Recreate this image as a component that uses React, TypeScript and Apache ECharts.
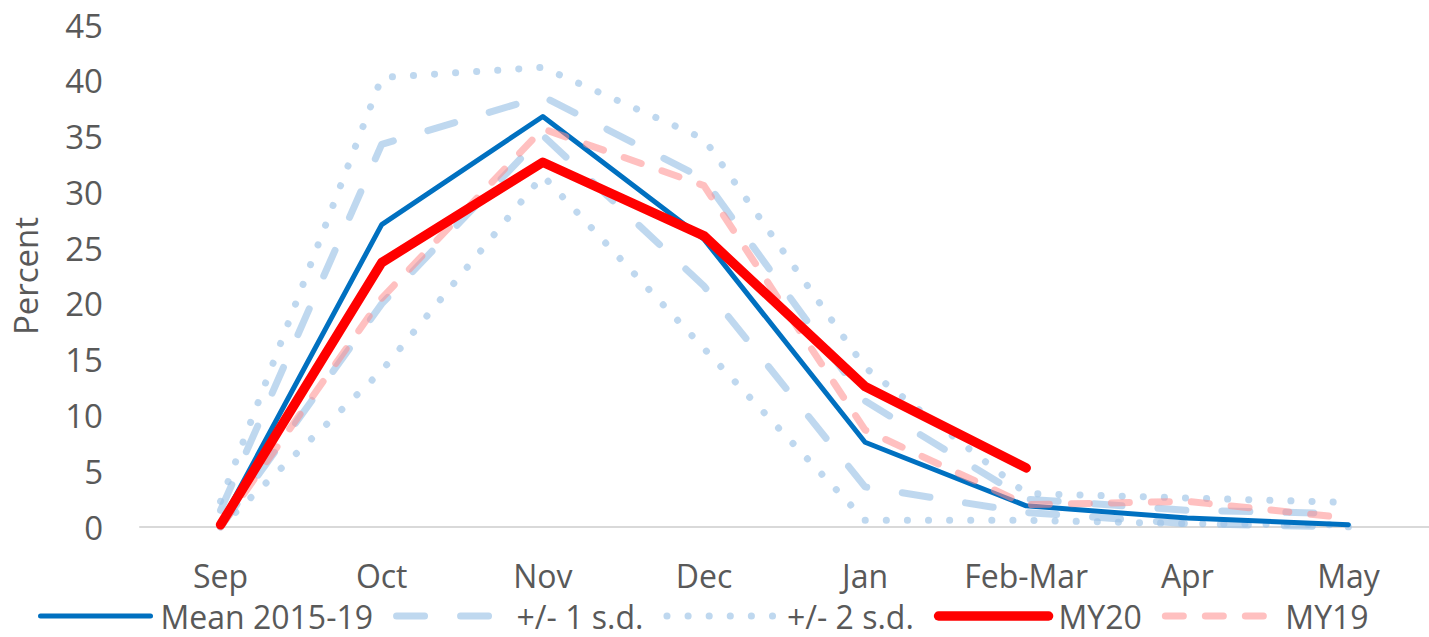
import React, { useEffect, useRef } from "react";
import * as echarts from "echarts";

const categories = ["Sep", "Oct", "Nov", "Dec", "Jan", "Feb-Mar", "Apr", "May"];
const mean1519 = [0.3, 27.1, 36.8, 25.8, 7.6, 1.9, 0.8, 0.2];
const sd1Upper = [1.5, 34.3, 38.6, 31.2, 11.3, 2.5, 1.5, 1.2];
const sd1Lower = [0, 20, 35.1, 21.6, 3.6, 1.3, 0.3, 0];
const sd2Upper = [2.3, 40.3, 41.2, 34.8, 14.3, 3.0, 2.6, 2.2];
const sd2Lower = [0, 14, 31.5, 16, 0.6, 0.6, 0.3, 0.2];
const my20 = [0.2, 23.7, 32.7, 26.1, 12.6, 5.3];
const my19 = [0, 20.5, 35.7, 30.6, 8.7, 2.0, 2.3, 0.8];
const legendNames = ["Mean 2015-19", "+/- 1 s.d.", "+/- 2 s.d.", "MY20", "MY19"];

const FONT = "Open Sans";
const TEXT = "#595959";
const LIGHT_BLUE = "rgba(157,195,230,0.65)";
const PINK = "rgba(255,140,140,0.55)";

export default function App() {
  const ref = useRef<HTMLDivElement>(null);
  useEffect(() => {
    if (!ref.current) return;
    const chart = echarts.init(ref.current, null, { renderer: "svg" });
    const base = {
      type: "line" as const,
      symbol: "none",
      showSymbol: false,
      silent: true,
    };
    const sd1Style = { color: LIGHT_BLUE, width: 7, type: [28, 36], cap: "round", join: "round" };
    const sd2Style = { color: LIGHT_BLUE, width: 7, type: [0.1, 21], cap: "round", join: "round" };
    chart.setOption({
      animation: false,
      backgroundColor: "#ffffff",
      textStyle: { fontFamily: FONT },
      grid: { left: 140, top: 25, width: 1310, height: 502, containLabel: false },
      legend: {
        data: legendNames,
        left: 33,
        top: 595,
        itemWidth: 110,
        itemHeight: 20,
        itemGap: 20,
        itemStyle: { opacity: 0 },
        lineStyle: { width: "inherit" },
        textStyle: { fontFamily: FONT, fontSize: 32, color: TEXT, padding: [0, 0, 0, 5] },
      },
      xAxis: {
        type: "category",
        data: categories,
        boundaryGap: true,
        axisLine: { lineStyle: { color: "#D9D9D9", width: 2 } },
        axisTick: { show: false },
        axisLabel: { fontFamily: FONT, fontSize: 32, color: TEXT, margin: 32, interval: 0 },
        splitLine: { show: false },
      },
      yAxis: {
        type: "value",
        min: 0,
        max: 45,
        interval: 5,
        name: "Percent",
        nameLocation: "middle",
        nameRotate: 90,
        nameGap: 98,
        nameTextStyle: { fontFamily: FONT, fontSize: 33, color: TEXT },
        axisLine: { show: false },
        axisTick: { show: false },
        splitLine: { show: false },
        axisLabel: { fontFamily: FONT, fontSize: 33, color: TEXT, margin: 37 },
      },
      series: [
        { ...base, name: "+/- 1 s.d.", data: sd1Upper, lineStyle: sd1Style, itemStyle: { color: LIGHT_BLUE }, z: 2 },
        { ...base, name: "+/- 1 s.d.", data: sd1Lower, lineStyle: sd1Style, itemStyle: { color: LIGHT_BLUE }, z: 2 },
        { ...base, name: "+/- 2 s.d.", data: sd2Upper, lineStyle: sd2Style, itemStyle: { color: LIGHT_BLUE }, z: 2 },
        { ...base, name: "+/- 2 s.d.", data: sd2Lower, lineStyle: sd2Style, itemStyle: { color: LIGHT_BLUE }, z: 2 },
        {
          ...base,
          name: "Mean 2015-19",
          data: mean1519,
          lineStyle: { color: "#0070C0", width: 5, cap: "round", join: "round" },
          itemStyle: { color: "#0070C0" },
          z: 3,
        },
        {
          ...base,
          name: "MY19",
          data: my19,
          lineStyle: { color: PINK, width: 7, type: [18, 22], cap: "round", join: "round" },
          itemStyle: { color: PINK },
          z: 4,
        },
        {
          ...base,
          name: "MY20",
          data: my20,
          lineStyle: { color: "#FF0000", width: 9.5, cap: "round", join: "round" },
          itemStyle: { color: "#FF0000" },
          z: 5,
        },
      ],
    });
    return () => chart.dispose();
  }, []);
  return (
    <div
      ref={ref}
      style={{ position: "fixed", left: 0, top: 0, width: 1429, height: 637, background: "#fff" }}
    />
  );
}
